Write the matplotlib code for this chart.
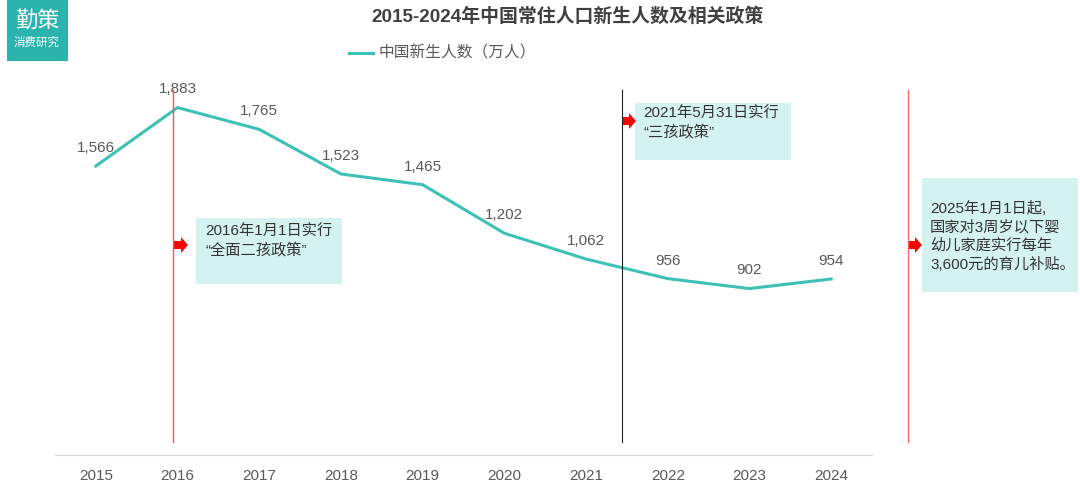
import matplotlib

matplotlib.use("Agg")
import matplotlib.pyplot as plt
from matplotlib.patches import Rectangle, Polygon
from matplotlib.lines import Line2D

plt.rcParams["font.family"] = ["Liberation Sans", "Noto Sans CJK SC", "DejaVu Sans"]

years = ["2015", "2016", "2017", "2018", "2019", "2020", "2021", "2022", "2023", "2024"]
births = [1566, 1883, 1765, 1523, 1465, 1202, 1062, 956, 902, 954]

LINE = "#3DC1B7"
TEAL = "#2BB3AE"
BOX = "#D4F3F0"
INK = "#333333"
LABEL = "#595959"
RED = "#FF0000"

W, H = 1080, 495
fig = plt.figure(figsize=(W / 100, H / 100), dpi=100, facecolor="white")


def fx(px):
    return px / W


def fy(py):
    return 1 - py / H


ax = fig.add_axes([fx(55), fy(455), fx(872) - fx(55), fy(86) - fy(455)])
x = list(range(len(years)))
ax.plot(x, births, color=LINE, linewidth=2.2, label="中国新生人数（万人）")
for xi, v in zip(x, births):
    ax.annotate(f"{v:,}", (xi, v), xytext=(0, 8), textcoords="offset points",
                ha="center", va="bottom", fontsize=11, color=LABEL)

ax.set_xlim(-0.5, len(years) - 0.5)
ax.set_ylim(0, 2000)
ax.set_xticks(x)
ax.set_xticklabels(years)
ax.tick_params(axis="x", length=0, pad=10, labelsize=11, colors=LABEL)
ax.set_yticks([])
for s in ["top", "right", "left"]:
    ax.spines[s].set_visible(False)
ax.spines["bottom"].set_color("#D9D9D9")

# legend
fig.add_artist(Line2D([fx(349), fx(373)], [fy(53), fy(53)], color=LINE, linewidth=2.2))
fig.text(fx(379), fy(53), "中国新生人数（万人）", fontsize=11.3, color=LABEL, va="center", ha="left")

# title
fig.text(fx(568), fy(17), "2015-2024年中国常住人口新生人数及相关政策", fontsize=13.6,
         fontweight="semibold", color="#404040", ha="center", va="center")

# logo
fig.add_artist(Rectangle((fx(7), fy(61)), fx(61), fy(0) - fy(61), transform=fig.transFigure,
                         facecolor=TEAL, edgecolor="none"))
fig.text(fx(37), fy(21), "勤策", fontsize=16, color="white", ha="center", va="center")
fig.text(fx(37), fy(43), "消费研究", fontsize=8.3, color="white", ha="center", va="center")


def vline(px, color, lw):
    fig.add_artist(Line2D([fx(px), fx(px)], [fy(90), fy(442)], color=color, linewidth=lw))


def arrow(px, py):
    pts = [(px, py - 4), (px + 7, py - 4), (px + 7, py - 8), (px + 14, py),
           (px + 7, py + 8), (px + 7, py + 4), (px, py + 4)]
    fig.add_artist(Polygon([(fx(a), fy(b)) for a, b in pts], closed=True,
                           transform=fig.transFigure, facecolor=RED, edgecolor="none"))


def box(x0, y0, x1, y1, text, tx, ty):
    fig.add_artist(Rectangle((fx(x0), fy(y1)), fx(x1) - fx(x0), fy(y0) - fy(y1),
                             transform=fig.transFigure, facecolor=BOX, edgecolor="none"))
    fig.text(fx(tx), fy(ty), text, fontsize=11, color=INK, ha="left", va="top", linespacing=1.35)


vline(173, "#FF5050", 1.0)
vline(622, "#202020", 0.8)
vline(908, "#FF6666", 1.0)

box(196, 218, 342, 284, "2016年1月1日实行\n“全面二孩政策”", 205, 225)
box(635, 103, 791, 160, "2021年5月31日实行\n“三孩政策”", 643, 107)
box(922, 178, 1078, 292, "2025年1月1日起,\n国家对3周岁以下婴\n幼儿家庭实行每年\n3,600元的育儿补贴。", 930, 201)

arrow(174, 245)
arrow(622, 121)
arrow(908, 245)

fig.savefig("out.png", dpi=100, facecolor="white")
